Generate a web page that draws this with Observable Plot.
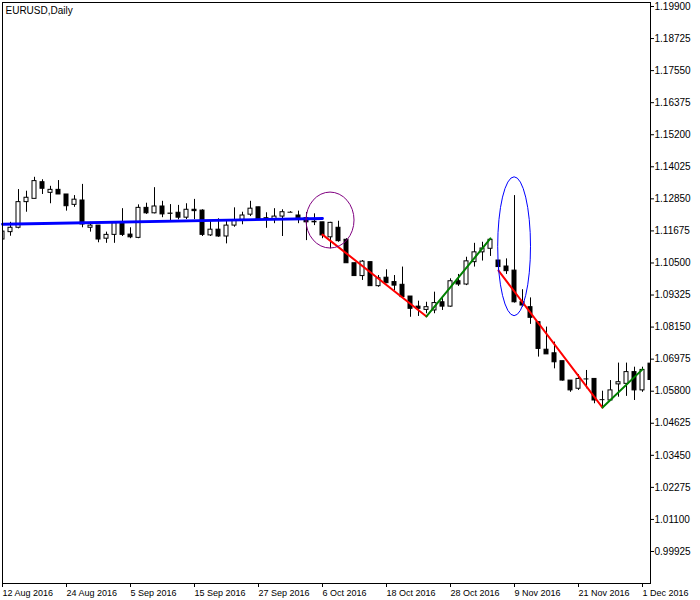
<!DOCTYPE html>
<html>
<head>
<meta charset="utf-8">
<script src="https://cdn.jsdelivr.net/npm/d3@7"></script>
<script src="https://cdn.jsdelivr.net/npm/@observablehq/plot@0.6"></script>
<style>
  html, body { margin: 0; padding: 0; background: white; }
</style>
</head>
<body>
<div id="chart"></div>
<script>
// Daily EURUSD candles, bar index 0 = 12 Aug 2016
const open  = [1.1136,1.1163,1.1179,1.1273,1.1285,1.1346,1.1307,1.1318,1.1301,1.1263,
               1.1279,1.1179,1.1187,1.1139,1.1153,1.1196,1.1154,1.1142,1.1252,1.1232,
               1.1257,1.1230,1.1234,1.1216,1.1245,1.1242,1.1151,1.1172,1.1147,1.1187,
               1.1208,1.1227,1.1254,1.1214,1.1208,1.1220,1.1236,1.1224,1.1214,1.1201,
               1.1199,1.1144,1.1179,1.1135,1.1049,1.1002,1.1053,1.0965,1.0996,1.0980,
               1.0970,1.0927,1.0890,1.0878,1.0876,1.0906,1.0890,1.0983,1.0971,1.1053,
               1.1089,1.1102,1.1059,1.1037,1.1022,1.0906,1.0888,1.0833,1.0732,1.0719,
               1.0690,1.0619,1.0589,1.0625,1.0625,1.0549,1.0546,1.0605,1.0607,1.0650,
               1.0583,1.0681];
const high  = [1.1173,1.1199,1.1319,1.1313,1.1364,1.1355,1.1331,1.1352,1.1301,1.1297,
               1.1338,1.1199,1.1187,1.1163,1.1196,1.1249,1.1179,1.1263,1.1269,1.1326,
               1.1276,1.1264,1.1261,1.1267,1.1283,1.1245,1.1206,1.1212,1.1208,1.1252,
               1.1236,1.1276,1.1254,1.1234,1.1249,1.1245,1.1238,1.1240,1.1235,1.1230,
               1.1199,1.1199,1.1203,1.1139,1.1049,1.1059,1.1053,1.1004,1.1025,1.1004,
               1.1035,1.0927,1.0910,1.0906,1.0943,1.0919,1.0992,1.1008,1.1071,1.1122,
               1.1126,1.1139,1.1059,1.1065,1.1297,1.0952,1.0922,1.0833,1.0815,1.0760,
               1.0690,1.0619,1.0641,1.0656,1.0625,1.0580,1.0619,1.0683,1.0683,1.0668,
               1.0668,1.0689];
const low   = [1.1125,1.1148,1.1175,1.1236,1.1285,1.1301,1.1267,1.1301,1.1240,1.1254,
               1.1179,1.1163,1.1124,1.1122,1.1122,1.1147,1.1139,1.1139,1.1228,1.1230,
               1.1216,1.1203,1.1208,1.1209,1.1209,1.1147,1.1147,1.1144,1.1120,1.1181,
               1.1190,1.1220,1.1206,1.1177,1.1194,1.1147,1.1235,1.1194,1.1132,1.1187,
               1.1139,1.1102,1.1126,1.1049,1.1002,1.0986,1.0965,1.0961,1.0974,1.0949,
               1.0922,1.0851,1.0854,1.0864,1.0864,1.0876,1.0888,1.0964,1.0967,1.1035,
               1.1057,1.1074,1.1022,1.1008,1.0903,1.0888,1.0825,1.0705,1.0715,1.0662,
               1.0617,1.0576,1.0583,1.0589,1.0534,1.0519,1.0546,1.0558,1.0561,1.0546,
               1.0576,1.0619];
const close = [1.1165,1.1179,1.1273,1.1289,1.1350,1.1322,1.1318,1.1301,1.1258,1.1282,
               1.1191,1.1187,1.1136,1.1153,1.1196,1.1153,1.1144,1.1252,1.1232,1.1257,
               1.1228,1.1231,1.1216,1.1245,1.1240,1.1153,1.1172,1.1147,1.1187,1.1206,
               1.1224,1.1249,1.1209,1.1208,1.1220,1.1236,1.1236,1.1214,1.1199,1.1199,
               1.1151,1.1197,1.1130,1.1049,1.1002,1.1055,1.0965,1.0994,1.0976,1.0967,
               1.0925,1.0882,1.0882,1.0888,1.0903,1.0890,1.0983,1.0971,1.1056,1.1089,
               1.1103,1.1135,1.1035,1.1020,1.0906,1.0894,1.0849,1.0735,1.0715,1.0686,
               1.0619,1.0583,1.0625,1.0625,1.0546,1.0549,1.0583,1.0613,1.0650,1.0583,
               1.0658,1.0621];

const xTickIdx = [0, 8, 16, 24, 32, 40, 48, 56, 64, 72, 80];
const xTickLabels = ["12 Aug 2016","24 Aug 2016","5 Sep 2016","15 Sep 2016","27 Sep 2016",
                     "6 Oct 2016","18 Oct 2016","28 Oct 2016","9 Nov 2016","21 Nov 2016","1 Dec 2016"];
const yTicks = [1.19900,1.18725,1.17550,1.16375,1.15200,1.14025,1.12850,1.11675,1.10500,
                1.09325,1.08150,1.06975,1.05800,1.04625,1.03450,1.02275,1.01100,0.99925];

// trend lines (bar index, price)
const blueLine   = [{i: 0,  p: 1.1192}, {i: 40, p: 1.1213}];
const redLine1   = [{i: 40, p: 1.1154}, {i: 53, p: 1.0854}];
const greenLine1 = [{i: 53, p: 1.0854}, {i: 61, p: 1.1140}];
const redLine2   = [{i: 62, p: 1.1022}, {i: 75, p: 1.0520}];
const greenLine2 = [{i: 75, p: 1.0520}, {i: 80, p: 1.0660}];

// highlight ellipses: bar-index extent and price extent
const ellipses = [
  {i1: 37.94, i2: 43.94, p1: 1.1103, p2: 1.1308, color: "#800080"},
  {i1: 61.9,  i2: 66.0,  p1: 1.0855, p2: 1.1364, color: "#0000ff"}
];

const bars = open.map((o, i) => ({i, o, h: high[i], l: low[i], c: close[i]}));
const bulls = bars.filter(d => d.c > d.o);
const bears = bars.filter(d => d.c < d.o);
const dojis = bars.filter(d => d.c === d.o);
const hw = 2 / 8; // half body width in bar units

const chart = Plot.plot({
  width: 700,
  height: 600,
  marginTop: 2,
  marginLeft: 2,
  marginRight: 50,
  marginBottom: 17,
  style: {background: "white", color: "black", fontFamily: "'Liberation Sans', Arial, sans-serif", fontSize: "10px"},
  x: {domain: [0, 80], range: [2, 642], axis: null, label: null},
  y: {domain: [0.99925, 1.19900], range: [551, 6], axis: null, label: null},
  marks: [
    Plot.axisY({anchor: "right", label: null, ticks: yTicks, tickFormat: d => d.toFixed(5), tickSize: 3, tickPadding: 1, fontSize: 10}),
    Plot.axisX({anchor: "bottom", label: null, ticks: xTickIdx, tickFormat: d => xTickLabels[xTickIdx.indexOf(d)], tickSize: 4, tickPadding: 2, textAnchor: "start", dx: 0, fontSize: 9}),
    Plot.ruleX(bars, {x: "i", y1: "l", y2: "h", stroke: "black", strokeWidth: 1, clip: true}),
    Plot.rect(bulls, {x1: d => d.i - hw, x2: d => d.i + hw, y1: "o", y2: "c", fill: "white", stroke: "black", strokeWidth: 1, clip: true}),
    Plot.rect(bears, {x1: d => d.i - hw, x2: d => d.i + hw, y1: "o", y2: "c", fill: "black", stroke: "black", strokeWidth: 1, clip: true}),
    Plot.ruleY(dojis, {y: "c", x1: d => d.i - hw - 0.06, x2: d => d.i + hw + 0.06, stroke: "black", strokeWidth: 1, clip: true}),
    Plot.line(blueLine, {x: "i", y: "p", stroke: "#0000ff", strokeWidth: 2.8}),
    Plot.line(redLine1, {x: "i", y: "p", stroke: "#ff0000", strokeWidth: 2}),
    Plot.line(greenLine1, {x: "i", y: "p", stroke: "#008000", strokeWidth: 2}),
    Plot.line(redLine2, {x: "i", y: "p", stroke: "#ff0000", strokeWidth: 2}),
    Plot.line(greenLine2, {x: "i", y: "p", stroke: "#008000", strokeWidth: 2}),
    Plot.frame({stroke: "black"}),
    Plot.text(["EURUSD,Daily"], {frameAnchor: "top-left", text: d => d, dx: 3, dy: 4, textAnchor: "start", lineAnchor: "top", fontSize: 10})
  ]
});

const sx = chart.scale("x"), sy = chart.scale("y");
const svg = d3.select(chart);
for (const e of ellipses) {
  const x1 = sx.apply(e.i1) + 0.5, x2 = sx.apply(e.i2) + 0.5;
  const y1 = sy.apply(e.p1), y2 = sy.apply(e.p2);
  svg.append("ellipse")
    .attr("cx", (x1 + x2) / 2).attr("cy", (y1 + y2) / 2)
    .attr("rx", Math.abs(x2 - x1) / 2).attr("ry", Math.abs(y2 - y1) / 2)
    .attr("fill", "none").attr("stroke", e.color).attr("stroke-width", 1);
}
document.getElementById("chart").appendChild(chart);
</script>
</body>
</html>
